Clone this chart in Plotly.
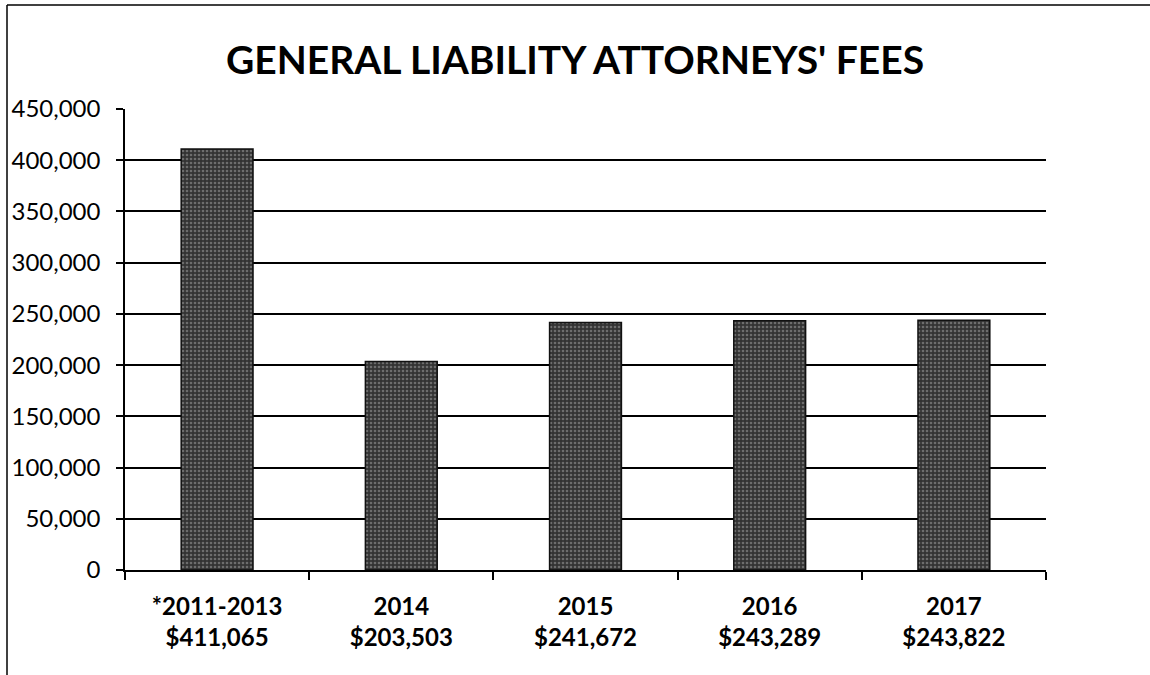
import plotly.graph_objects as go

categories = ["*2011-2013", "2014", "2015", "2016", "2017"]
amount_labels = ["$411,065", "$203,503", "$241,672", "$243,289", "$243,822"]
values = [411065, 203503, 241672, 243289, 243822]

tick_text = [f"<b>{c}<br>{a}</b>" for c, a in zip(categories, amount_labels)]

L, R, T, B = 125, 104, 109, 105
W, H = 1150, 675
pw, ph = W - L - R, H - T - B

def px_x(px):
    return (px - L) / pw

def px_y(py):
    return (H - B - py) / ph

fig = go.Figure()
fig.add_trace(go.Bar(
    x=tick_text,
    y=values,
    width=0.39,
    marker=dict(
        color="#404040",
        line=dict(color="#111111", width=1.5),
        pattern=dict(shape=".", fgcolor="#a8a8a8", bgcolor="#333333", size=4, solidity=0.35),
    ),
    hoverinfo="skip",
))

fig.update_layout(
    width=W, height=H,
    margin=dict(l=L, r=R, t=T, b=B, autoexpand=False),
    paper_bgcolor="white",
    plot_bgcolor="white",
    showlegend=False,
    font=dict(family="Lato, Open Sans, sans-serif", color="black"),
    title=dict(
        text="<b>GENERAL LIABILITY ATTORNEYS' FEES</b>",
        x=0.5, xanchor="center", y=1 - 60 / H, yanchor="middle",
        font=dict(size=39, family="Lato, Open Sans, sans-serif", color="black"),
    ),
    xaxis=dict(
        type="category",
        automargin=False,
        tickson="boundaries",
        ticks="outside", ticklen=8, tickwidth=1.5, tickcolor="black",
        showline=True, linecolor="black", linewidth=1.5,
        showgrid=False,
        tickfont=dict(size=24, color="black"),
        ticklabelstandoff=14,
    ),
    yaxis=dict(
        automargin=False,
        range=[0, 450000],
        dtick=50000,
        tickformat=",",
        ticks="outside", ticklen=7, tickwidth=1.5, tickcolor="black",
        showline=True, linecolor="black", linewidth=1.5,
        showgrid=True, gridcolor="black", gridwidth=1.5,
        zeroline=False,
        tickfont=dict(size=24, color="black"),
        ticklabelstandoff=11,
    ),
    shapes=[
        dict(type="line", xref="paper", yref="paper",
             x0=px_x(7), x1=px_x(1150), y0=px_y(5), y1=px_y(5),
             line=dict(color="black", width=1.5)),
        dict(type="line", xref="paper", yref="paper",
             x0=px_x(7), x1=px_x(7), y0=px_y(5), y1=px_y(675),
             line=dict(color="black", width=1.5)),
    ],
)

fig.write_html("out.html", config={"displayModeBar": False},
               post_script="document.body.style.margin='0';")
